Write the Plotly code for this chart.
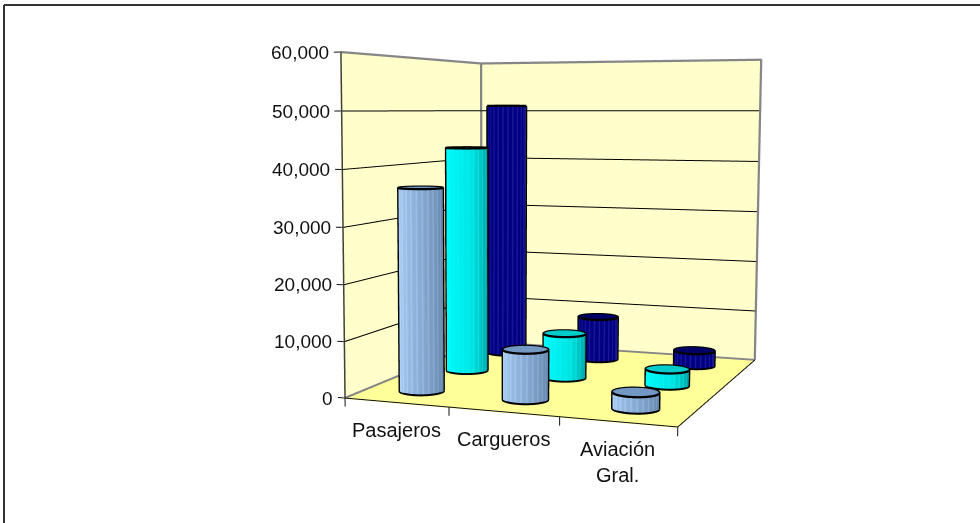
import numpy as np
import plotly.graph_objects as go

categories = ["Pasajeros", "Cargueros", "Aviación<br>Gral."]
series_a = [36500, 8800, 2800]
series_b = [43000, 8400, 3000]
series_c = [51000, 8600, 3000]
z_ticks = [0, 10000, 20000, 30000, 40000, 50000, 60000]
z_tick_text = ["0", "10,000", "20,000", "30,000", "40,000", "50,000", "60,000"]
x_ticks = [0, 1, 2, 3]

W, H = 980, 523
EYE = (1.3729, -4.0714, 0.3407)
CENTER = (-0.3246, 0.1784, -0.1652)
UP = (0.0024, -0.0001, 1.0)
ASPECT_Y, ASPECT_Z = 1.0646, 1.0072
FOVY = 2 * np.arctan(1 / np.exp(1.6610))

XMAX = 3.0; YMAX = 3.0; ZMAX = 60000.0; PAD = 0.04
RX = 0.197; RY = RX / ASPECT_Y
FLAT_LIGHT = dict(ambient=1, diffuse=0, specular=0, roughness=1, fresnel=0)


def flat_surface(x, y, z, c):
    return go.Surface(x=x, y=y, z=z, surfacecolor=np.zeros_like(np.array(z, float)),
                      colorscale=[[0, c], [1, c]], showscale=False, cmin=0, cmax=1,
                      hoverinfo="skip", lighting=FLAT_LIGHT)


def line(x, y, z, color="black", width=4.5):
    return go.Scatter3d(x=x, y=y, z=z, mode="lines",
                        line=dict(color=color, width=width), hoverinfo="skip")


fig = go.Figure()
off = 0.012
fig.add_trace(flat_surface([[-off, -off], [-off, -off]], [[0, YMAX], [0, YMAX]], [[0, 0], [ZMAX, ZMAX]], "#FFFFCC"))
fig.add_trace(flat_surface([[0, XMAX], [0, XMAX]], [[YMAX + off] * 2, [YMAX + off] * 2], [[0, 0], [ZMAX, ZMAX]], "#FFFFCC"))
fig.add_trace(flat_surface([[0, XMAX], [0, XMAX]], [[0, 0], [YMAX, YMAX]], [[-150, -150], [-150, -150]], "#FFFF99"))
for v in z_ticks[1:-1]:
    fig.add_trace(line([0, 0, XMAX], [0, YMAX, YMAX], [v, v, v], "#000000", 2))
GR = "#868686"
fig.add_trace(line([0, 0, XMAX, XMAX], [0, YMAX, YMAX, YMAX], [ZMAX, ZMAX, ZMAX, 0], GR, 4.5))
fig.add_trace(line([0, 0], [YMAX, YMAX], [0, ZMAX], GR, 4.5))
fig.add_trace(line([0, 0, XMAX], [0, YMAX, YMAX], [0, 0, 0], GR, 4.5))
fig.add_trace(line([0, 0], [0, 0], [0, ZMAX], "#404040", 3))
fig.add_trace(line([0, XMAX, XMAX], [0, 0, YMAX], [0, 0, 0], "#111111", 2))
for v in z_ticks:
    fig.add_trace(line([-0.07, 0], [0, 0], [v, v], "#111111", 2))
for v in x_ticks:
    fig.add_trace(line([v, v], [0, 0], [0, -1500], "#111111", 2))

styles = [
    ([[0, '#AED2F8'], [.5, '#87AAD2'], [1, '#5F7FA2']], "#7398C4", lambda t: t, -0.22),
    ([[0, '#00FFFF'], [.55, '#00E6E6'], [1, '#009090']], "#00CCCC", lambda t: t, -0.15),
    ([[0, '#000060'], [.5, '#000080'], [.75, '#1C1CA0'], [1, '#3A3A70']], "#000066",
     lambda t: .5 + .5 * np.clip((t - .85) / .15, 0, 1), .25),
]
for j, (vals, st) in enumerate(zip([series_a, series_b, series_c], styles)):
    cs, topc, base, s = st
    for i, h in enumerate(vals):
        cx = i + .5; cy = j + .5
        D = np.array([cx / 3 - .5 - EYE[0], (cy / 3 - .5) * ASPECT_Y - EYE[1]])
        r = RX / 3
        phi = np.arctan2(D[1], D[0]); a = np.arccos(-r / np.hypot(*D))
        tl = phi + a; tr = phi - a + 2 * np.pi
        tt = np.linspace(0, 1, 49)
        th = tl + tt * (tr - tl)
        stripe = (np.arange(49) % 4 == 1) * 1.0
        col = base(tt) + s * stripe
        X = np.array([cx + RX * np.cos(th)] * 2); Y = np.array([cy + RY * np.sin(th)] * 2)
        Z = np.array([[0.0] * 49, [h] * 49])
        fig.add_trace(go.Surface(x=X, y=Y, z=Z, surfacecolor=np.array([col, col]), colorscale=cs,
                                 cmin=0, cmax=1, showscale=False, hoverinfo="skip", lighting=FLAT_LIGHT))
        full = np.linspace(0, 2 * np.pi, 73)
        rr = np.array([0, 1.0])[:, None]
        fig.add_trace(flat_surface(cx + RX * rr * np.cos(full), cy + RY * rr * np.sin(full),
                                   np.full((2, 73), float(h)), topc))
        k = 1.012
        fig.add_trace(line(cx + k * RX * np.cos(full), cy + k * RY * np.sin(full), [h] * 73))
        fig.add_trace(line(cx + k * RX * np.cos(th), cy + k * RY * np.sin(th), [0] * 49))
        for t0 in (tl, tr):
            fig.add_trace(line([cx + k * RX * np.cos(t0)] * 2, [cy + k * RY * np.sin(t0)] * 2, [0, h]))

ann = [dict(x=0, y=0, z=v, text=t, showarrow=False, xanchor="right", yanchor="middle", xshift=-10,
            font=dict(family="Liberation Sans", size=19, color="#111111"))
       for v, t in zip(z_ticks, z_tick_text)]
ann += [dict(x=i + .5, y=0, z=0, text=t, showarrow=False, xanchor="center", yanchor="top", yshift=-14, xshift=0,
             font=dict(family="Liberation Sans", size=20, color="#111111"))
        for i, t in enumerate(categories)]
pad = lambda lo, hi: [lo - PAD * (hi - lo), hi + PAD * (hi - lo)]
hidden = dict(visible=False)
shapes = [dict(type="line", xref="paper", yref="paper", x0=4 / W, x1=1, y0=1 - 5 / H, y1=1 - 5 / H,
               line=dict(color="#333333", width=2)),
          dict(type="line", xref="paper", yref="paper", x0=4 / W, x1=4 / W, y0=1 - 5 / H, y1=0,
               line=dict(color="#333333", width=2))]
fig.update_layout(
    width=W, height=H, margin=dict(l=0, r=0, t=0, b=0), showlegend=False, shapes=shapes, paper_bgcolor="white",
    scene=dict(
        domain=dict(x=[0, 1], y=[0, 1]),
        camera=dict(eye=dict(x=EYE[0], y=EYE[1], z=EYE[2]), center=dict(x=CENTER[0], y=CENTER[1], z=CENTER[2]),
                    up=dict(x=UP[0], y=UP[1], z=UP[2])),
        aspectmode="manual",
        aspectratio=dict(x=1 + 2 * PAD, y=ASPECT_Y * (1 + 2 * PAD), z=ASPECT_Z * (1 + 2 * PAD)),
        xaxis=dict(range=pad(0, XMAX), **hidden), yaxis=dict(range=pad(0, YMAX), **hidden),
        zaxis=dict(range=pad(0, ZMAX), **hidden),
        annotations=ann))
post = ("document.body.style.margin='0';"
        "var g=document.getElementById('{plot_id}')._fullLayout.scene._scene.glplot;"
        "g.fovy=%f;g.redraw();" % FOVY)
fig.write_html("out.html", post_script=post, config=dict(displayModeBar=False))
